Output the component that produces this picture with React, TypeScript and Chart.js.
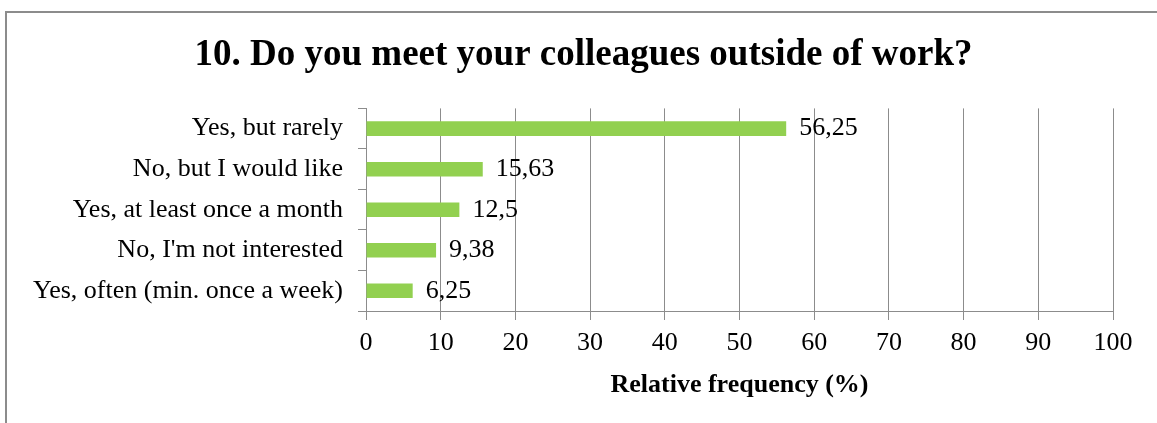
import React, { useEffect, useRef } from "react";
import { Chart, registerables } from "chart.js";

Chart.register(...registerables);

const titleText = "10. Do you meet your colleagues outside of work?";
const axisTitleText = "Relative frequency (%)";
const categories = [
  "Yes, but rarely",
  "No, but I would like",
  "Yes, at least once a month",
  "No, I'm not interested",
  "Yes, often (min. once a week)",
];
const values = [56.25, 15.63, 12.5, 9.38, 6.25];
const valueLabels = ["56,25", "15,63", "12,5", "9,38", "6,25"];
const xTickValues = [0, 10, 20, 30, 40, 50, 60, 70, 80, 90, 100];

const FONT = "'Liberation Serif', 'Times New Roman', serif";
const GRID = "#8c8c8c";
const BAR = "#92D050";

export default function App() {
  const ref = useRef<HTMLCanvasElement>(null);

  useEffect(() => {
    const canvas = ref.current;
    if (!canvas) return;

    const framePlugin = {
      id: "frame",
      beforeDraw(chart: any) {
        const ctx = chart.ctx;
        ctx.save();
        ctx.strokeStyle = GRID;
        ctx.lineWidth = 2;
        ctx.beginPath();
        ctx.moveTo(6, 2000);
        ctx.lineTo(6, 12);
        ctx.lineTo(3000, 12);
        ctx.stroke();
        ctx.restore();
      },
    };

    const valueLabelPlugin = {
      id: "valueLabels",
      afterDatasetsDraw(chart: any) {
        const ctx = chart.ctx;
        const meta = chart.getDatasetMeta(0);
        ctx.save();
        ctx.font = `26px ${FONT}`;
        ctx.fillStyle = "#000";
        ctx.textAlign = "left";
        ctx.textBaseline = "middle";
        meta.data.forEach((bar: any, i: number) => {
          ctx.fillText(valueLabels[i], bar.x + 13, bar.y);
        });
        ctx.restore();
      },
    };

    const chart = new Chart(canvas, {
      type: "bar",
      data: {
        labels: categories,
        datasets: [
          {
            data: values,
            backgroundColor: BAR,
            borderWidth: 0,
            barPercentage: 0.36,
            categoryPercentage: 1,
          },
        ],
      },
      options: {
        indexAxis: "y",
        responsive: false,
        animation: false,
        devicePixelRatio: 1,
        layout: { padding: { left: 10, right: 0, top: 0, bottom: 0 } },
        plugins: {
          legend: { display: false },
          tooltip: { enabled: false },
          title: {
            display: true,
            text: titleText,
            color: "#000",
            font: { family: FONT, size: 37, weight: "bold" },
            padding: { top: 33, bottom: 31 },
          },
        },
        scales: {
          x: {
            type: "linear",
            min: 0,
            max: 100,
            afterBuildTicks: (s: any) => {
              s.ticks = xTickValues.map((v) => ({ value: v }));
            },
            ticks: {
              color: "#000",
              font: { family: FONT, size: 26 },
              padding: 8,
              maxRotation: 0,
            },
            grid: { color: GRID, tickLength: 9, drawOnChartArea: true },
            border: { color: GRID },
            title: {
              display: true,
              text: axisTitleText,
              color: "#000",
              font: { family: FONT, size: 26, weight: "bold" },
              padding: { top: 0, bottom: 22 },
            },
            afterFit: (s: any) => {
              s.height = 112;
            },
          },
          y: {
            ticks: {
              color: "#000",
              font: { family: FONT, size: 26 },
              padding: 15,
            },
            grid: {
              drawOnChartArea: false,
              tickLength: 8,
              color: GRID,
              offset: true,
            },
            border: { color: GRID },
            afterFit: (s: any) => {
              s.width = 356;
            },
          },
          yRightSpace: {
            type: "category",
            position: "right",
            display: true,
            grid: { display: false, drawTicks: false },
            ticks: { display: false },
            border: { display: false },
            afterFit: (s: any) => {
              s.width = 44;
            },
          },
        },
      },
      plugins: [framePlugin, valueLabelPlugin],
    } as any);

    return () => chart.destroy();
  }, []);

  return (
    <div
      style={{
        position: "fixed",
        left: 0,
        top: 0,
        width: 1157,
        height: 423,
        overflow: "hidden",
        background: "#fff",
      }}
    >
      <canvas
        ref={ref}
        width={1157}
        height={423}
        style={{ display: "block", width: 1157, height: 423 }}
      />
    </div>
  );
}
